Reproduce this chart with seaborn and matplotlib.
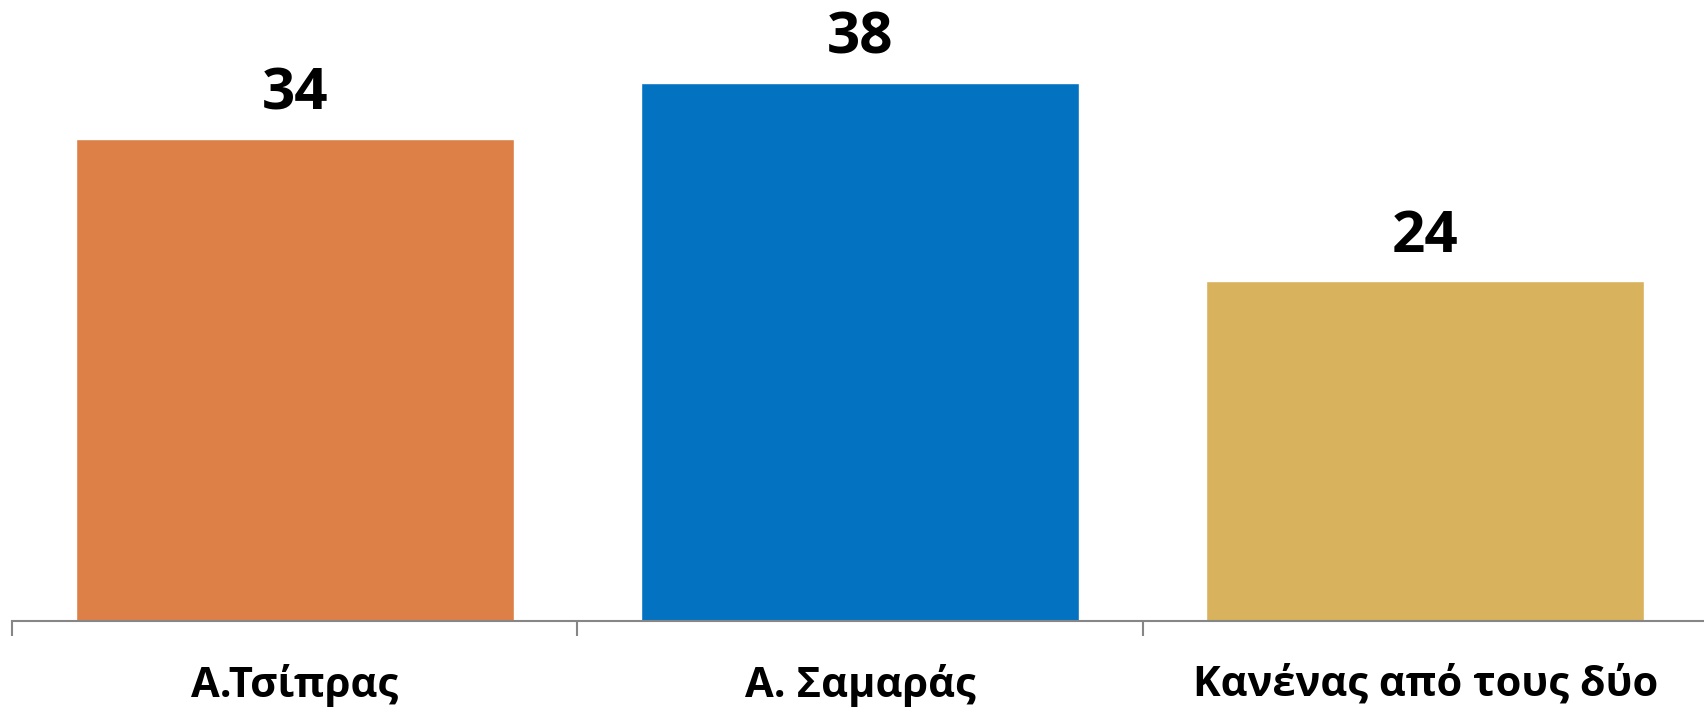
import matplotlib
matplotlib.use("Agg")
import matplotlib.pyplot as plt
import seaborn as sns
import pandas as pd

categories = ["Α.Τσίπρας", "Α. Σαμαράς", "Κανένας από τους δύο"]
values = [34, 38, 24]
colors = ["#DD8047", "#0372C1", "#D8B25D"]

sns.set_style("white")
plt.rcParams['font.family'] = ['Open Sans', 'DejaVu Sans']
plt.rcParams['text.color'] = 'black'
plt.rcParams['xtick.color'] = 'black'

df = pd.DataFrame({"cat": categories, "val": values})

fig = plt.figure(figsize=(17.04, 7.07), dpi=100)
ax = fig.add_axes([12/1704, (707-621)/707, 1696/1704, 621/707])

sns.barplot(data=df, x="cat", y="val", hue="cat", palette=colors, width=0.775,
            saturation=1, legend=False, ax=ax)

ax.set_ylim(0, 621/14.17)
ax.set_xlim(-0.5, 2.5)
for c in ax.containers:
    ax.bar_label(c, fmt="%d", padding=11, fontsize=42, fontweight="bold", color="black")

for s in ["top", "right", "left"]:
    ax.spines[s].set_visible(False)
ax.spines["bottom"].set_color("#868686")
ax.spines["bottom"].set_linewidth(1.5)
ax.set_yticks([])
ax.set_xticks([0, 1, 2])
ax.set_xticklabels(categories, fontsize=30, fontweight="bold", color="black")
ax.tick_params(axis="x", which="major", length=0, pad=31, bottom=True)
ax.set_xticks([-0.5, 0.5, 1.5, 2.5], minor=True)
ax.tick_params(axis="x", which="minor", length=11, width=1.5, color="#868686",
               direction="out", bottom=True)
ax.set_xlabel("")
ax.set_ylabel("")

fig.savefig("out.png", dpi=100)
